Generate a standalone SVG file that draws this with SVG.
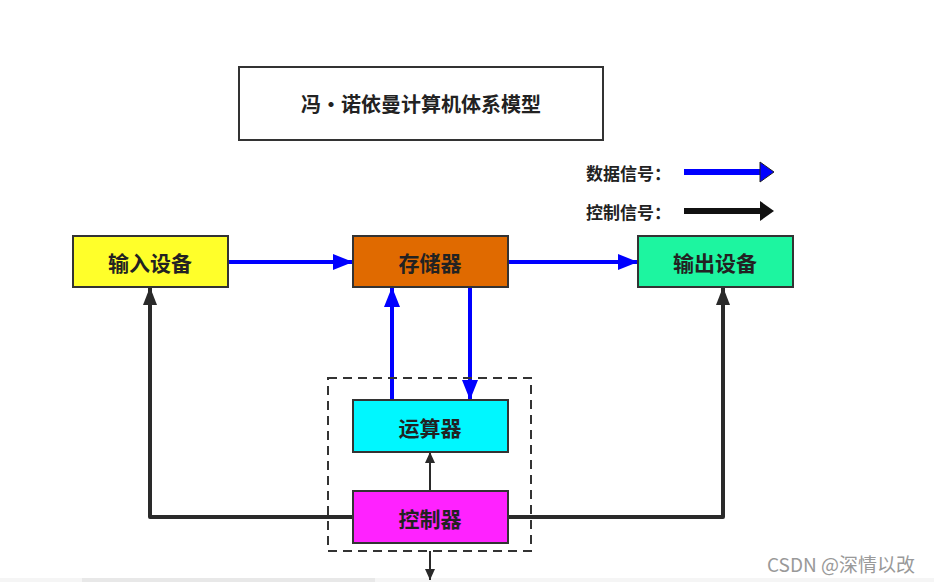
<svg xmlns="http://www.w3.org/2000/svg" width="934" height="582" viewBox="0 0 934 582">
<style>
.box{stroke:#333;stroke-width:2}
.t{font-family:"Noto Sans CJK SC","Noto Sans",sans-serif;font-weight:bold;fill:#222;text-anchor:middle;dominant-baseline:central}
.l{font-family:"Noto Sans CJK SC","Noto Sans",sans-serif;font-weight:bold;fill:#222;dominant-baseline:central}
.data{stroke:#0000ff;stroke-width:4;fill:none}
.ctrl{stroke:#2a2a2a;stroke-width:4;fill:none;stroke-linejoin:round}
.thin{stroke:#2a2a2a;stroke-width:2;fill:none}
</style>
<defs>
<marker id="ak" viewBox="0 0 10 10" markerWidth="10" markerHeight="10" refX="0" refY="0" markerUnits="userSpaceOnUse" orient="auto" style="overflow:visible">
<path d="M-18,-7 L0,0 L-18,7 z" fill="#2a2a2a"/>
</marker>
<marker id="abl" viewBox="0 0 10 10" markerWidth="10" markerHeight="10" refX="0" refY="0" markerUnits="userSpaceOnUse" orient="auto" style="overflow:visible">
<path d="M-20,-8 L0,0 L-20,8 z" fill="#0000ff"/>
</marker>
<marker id="lb" viewBox="0 0 10 10" markerWidth="10" markerHeight="10" refX="0" refY="0" markerUnits="userSpaceOnUse" orient="auto" style="overflow:visible">
<path d="M-14,-10 L0,0 L-14,10 z" fill="#0000ff" stroke="#222" stroke-width="1"/>
</marker>
<marker id="lk" viewBox="0 0 10 10" markerWidth="10" markerHeight="10" refX="0" refY="0" markerUnits="userSpaceOnUse" orient="auto" style="overflow:visible">
<path d="M-14,-10 L0,0 L-14,10 z" fill="#111"/>
</marker>
<marker id="at" viewBox="0 0 10 10" markerWidth="10" markerHeight="10" refX="0" refY="0" markerUnits="userSpaceOnUse" orient="auto" style="overflow:visible">
<path d="M-11,-5 L0,0 L-11,5 z" fill="#2a2a2a"/>
</marker>
</defs>
<rect width="934" height="582" fill="#ffffff"/>
<rect x="0" y="578" width="934" height="4" fill="#f5f5f5"/>
<rect x="82" y="578" width="293" height="4" fill="#e8e8e8"/>

<g id="title">
<rect x="239" y="67" width="364" height="73" fill="#fff" class="box"/>
<text x="421" y="103" class="t" font-size="20">冯•诺依曼计算机体系模型</text>
</g>

<g id="legend">
<text x="586" y="172" class="l" font-size="17">数据信号：</text>
<text x="586" y="211" class="l" font-size="17">控制信号：</text>
<line x1="684" y1="172" x2="762" y2="172" stroke="#0000ff" stroke-width="6"/>
<line x1="760" y1="172" x2="774" y2="172" stroke="none" marker-end="url(#lb)"/>
<line x1="684" y1="211" x2="762" y2="211" stroke="#111" stroke-width="6"/>
<line x1="760" y1="211" x2="774" y2="211" stroke="none" marker-end="url(#lk)"/>
</g>

<g id="connectors">
<line x1="228" y1="262" x2="353" y2="262" class="data" marker-end="url(#abl)"/>
<line x1="508" y1="262" x2="638" y2="262" class="data" marker-end="url(#abl)"/>
<line x1="392" y1="400" x2="392" y2="287" class="data" marker-end="url(#abl)"/>
<line x1="470" y1="287" x2="470" y2="400" class="data" marker-end="url(#abl)"/>
<polyline points="353,517 150,517 150,287" class="ctrl" marker-end="url(#ak)"/>
<polyline points="508,517 723,517 723,287" class="ctrl" marker-end="url(#ak)"/>
<line x1="430" y1="491" x2="430" y2="452" class="thin" marker-end="url(#at)"/>
<line x1="430" y1="551" x2="430" y2="580" class="thin" marker-end="url(#at)"/>
</g>

<g id="cpu">
<rect x="328" y="378" width="203" height="173" fill="none" stroke="#333" stroke-width="2" stroke-dasharray="9,6"/>
</g>

<g id="input">
<rect x="73" y="236" width="155" height="51" fill="#ffff2a" class="box"/>
<text x="150" y="262" class="t" font-size="21">输入设备</text>
</g>
<g id="memory">
<rect x="353" y="236" width="155" height="51" fill="#e06a00" class="box"/>
<text x="430" y="262" class="t" font-size="21">存储器</text>
</g>
<g id="output">
<rect x="638" y="236" width="155" height="51" fill="#1df5a0" class="box"/>
<text x="715" y="262" class="t" font-size="21">输出设备</text>
</g>
<g id="alu">
<rect x="353" y="400" width="155" height="52" fill="#00f7ff" class="box"/>
<text x="430" y="427" class="t" font-size="21">运算器</text>
</g>
<g id="control">
<rect x="353" y="491" width="155" height="52" fill="#ff22ff" class="box"/>
<text x="430" y="518" class="t" font-size="21">控制器</text>
</g>

<text x="841" y="563" font-family="'Noto Sans CJK SC','Noto Sans',sans-serif" font-size="19" fill="#999" text-anchor="middle" dominant-baseline="central">CSDN @深情以改</text>
</svg>
